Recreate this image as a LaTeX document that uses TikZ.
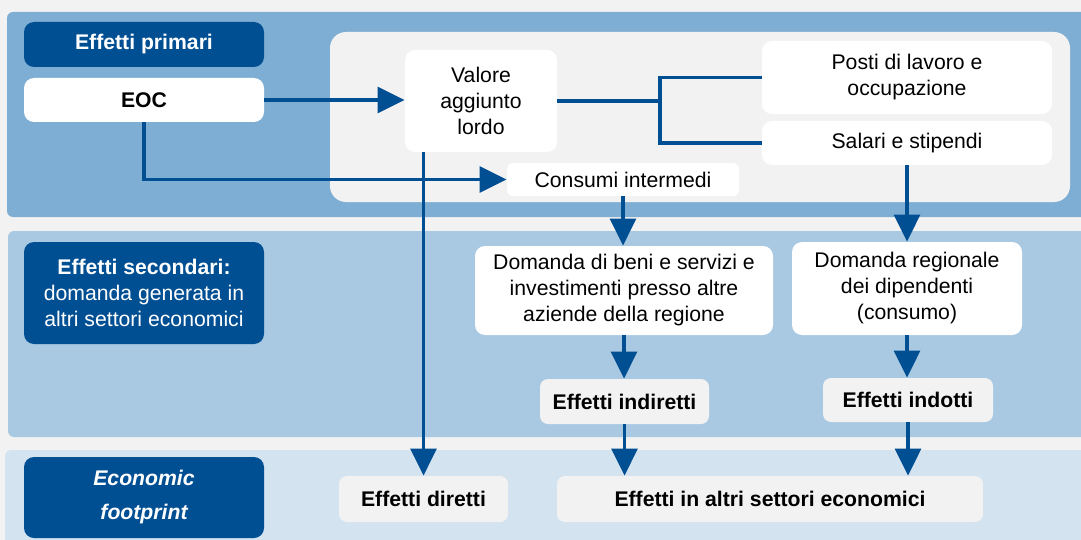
\documentclass[tikz,border=0pt]{standalone}
\usepackage{fontspec}
\setmainfont{Liberation Sans}
\usetikzlibrary{arrows.meta}
\definecolor{dkblue}{HTML}{004F93}
\definecolor{bandA}{HTML}{7FAED4}
\definecolor{bandB}{HTML}{A9C9E2}
\definecolor{bandC}{HTML}{D4E3F0}
\definecolor{paleg}{HTML}{F2F2F2}
\newcommand{\sz}{\fontsize{10.6}{13}\selectfont}

\begin{document}
\begin{tikzpicture}[x=0.5pt, y=-0.5pt, font=\sz,
  lab/.style = {fill=dkblue, text=white, rounded corners=5pt, align=center, inner sep=0pt},
  wbox/.style = {fill=white, rounded corners=5pt, align=center, inner sep=0pt},
  gbox/.style = {fill=paleg, rounded corners=4pt, align=center, inner sep=0pt, font=\sz\bfseries},
  link/.style = {draw=dkblue, line width=1.6pt},
  arr/.style = {link, -{Triangle[length=13.5pt,width=13pt]}}]
\useasboundingbox (0,0) rectangle (1081,540);
\fill[paleg] (0,0) rectangle (1081,540);
\fill[bandA, rounded corners=3pt] (7,12) rectangle (1095,217);
\fill[bandB, rounded corners=3pt] (8,231) rectangle (1095,437);
\fill[bandC, rounded corners=3pt] (5,450) rectangle (1095,560);
\fill[paleg, rounded corners=8pt] (330,32) rectangle (1070,202);

\node[lab, minimum width=120pt, minimum height=22.5pt, font=\sz\bfseries] (prim) at (144,44.5) {Effetti primari};
\node[wbox, minimum width=120pt, minimum height=22pt, font=\sz\bfseries] (eoc) at (144,100) {EOC};
\node[lab, minimum width=120pt, minimum height=51pt] (sec) at (144,293) {\textbf{Effetti secondari:}\\domanda generata in\\altri settori economici};
\node[lab, minimum width=120pt, minimum height=40.5pt, font=\fontsize{10.6}{17}\selectfont\bfseries\itshape] (foot) at (144,497.5) {Economic\\footprint};

\node[wbox, minimum width=76pt, minimum height=51pt] (val) at (481,101) {Valore\\aggiunto\\lordo};
\node[wbox, minimum width=145pt, minimum height=36.5pt] (posti) at (907,77.5) {Posti di lavoro e\\occupazione};
\node[wbox, minimum width=145pt, minimum height=22pt] (salari) at (907,143) {Salari e stipendi};
\node[wbox, rounded corners=3pt, minimum width=116pt, minimum height=16.5pt] (cons) at (623,179.5) {Consumi intermedi};

\node[wbox, minimum width=149pt, minimum height=44.5pt] (dbeni) at (624,290.5) {Domanda di beni e servizi e\\investimenti presso altre\\aziende della regione};
\node[wbox, minimum width=115pt, minimum height=46.5pt] (dreg) at (907,288.5) {Domanda regionale\\dei dipendenti\\(consumo)};
\node[gbox, minimum width=84.5pt, minimum height=22.5pt] (ind) at (624.5,401.5) {Effetti indiretti};
\node[gbox, minimum width=85pt, minimum height=22pt] (indt) at (908,400) {Effetti indotti};

\node[gbox, minimum width=84.5pt, minimum height=23pt] (dir) at (423.5,499) {Effetti diretti};
\node[gbox, minimum width=213pt, minimum height=23pt] (altri) at (770,499) {Effetti in altri settori economici};

\coordinate (fork) at (660,101);
\draw[link] (val.east) -- (fork);
\draw[link] (posti.west) -| (fork) |- (salari.west);
\draw[arr] (eoc.east) -- (val.west |- eoc.east);
\draw[arr] (eoc.south) |- (cons.west);
\draw[arr] (val.south -| dir.north) -- (dir.north);
\draw[arr] (cons.south) -- (cons.south |- dbeni.north);
\draw[arr] (salari.south) -- (salari.south |- dreg.north);
\draw[arr] (dbeni.south) -- (dbeni.south |- ind.north);
\draw[arr] (dreg.south) -- (dreg.south |- indt.north);
\draw[arr] (ind.south) -- (ind.south |- altri.north);
\draw[arr] (indt.south) -- (indt.south |- altri.north);
\end{tikzpicture}
\end{document}
